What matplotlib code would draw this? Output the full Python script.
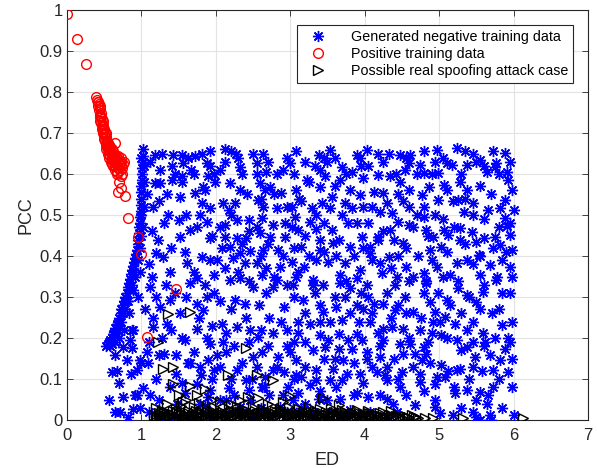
import numpy as np
import matplotlib
matplotlib.use('Agg')
import matplotlib.pyplot as plt
from matplotlib.lines import Line2D

plt.rcParams['font.family'] = ['Liberation Sans', 'DejaVu Sans']

# ---- data (ED, PCC) ----

# positive training data (red circles)
pos_pts = [
    (0.0, 0.99), (0.13, 0.93), (0.26, 0.868), (0.82, 0.493), (0.96, 0.447),
    (1.0, 0.405), (1.47, 0.32), (1.08, 0.203),
    (0.39, 0.788), (0.41, 0.775), (0.42, 0.765), (0.43, 0.755), (0.44, 0.745),
    (0.45, 0.74), (0.45, 0.73), (0.46, 0.725), (0.47, 0.72), (0.47, 0.71),
    (0.48, 0.705), (0.49, 0.7), (0.5, 0.695), (0.5, 0.685), (0.51, 0.68),
    (0.52, 0.675), (0.53, 0.67), (0.54, 0.665), (0.55, 0.66), (0.56, 0.655),
    (0.57, 0.65), (0.58, 0.645), (0.6, 0.645), (0.6, 0.635), (0.62, 0.64),
    (0.63, 0.63), (0.65, 0.635), (0.66, 0.625), (0.68, 0.63), (0.7, 0.625),
    (0.72, 0.64), (0.73, 0.63), (0.75, 0.625), (0.74, 0.615), (0.71, 0.61),
    (0.67, 0.605), (0.62, 0.655), (0.58, 0.665), (0.53, 0.69), (0.52, 0.7),
    (0.48, 0.72), (0.44, 0.76), (0.645, 0.675), (0.69, 0.645), (0.67, 0.6),
    (0.73, 0.595), (0.7, 0.58), (0.69, 0.556), (0.72, 0.565), (0.78, 0.546),
    (0.74, 0.6), (0.62, 0.62), (0.64, 0.61),
    (0.4, 0.78), (0.42, 0.775), (0.43, 0.77), (0.44, 0.765), (0.46, 0.75),
    (0.46, 0.74), (0.47, 0.735), (0.48, 0.73), (0.49, 0.715), (0.5, 0.71),
    (0.51, 0.7), (0.52, 0.69), (0.54, 0.68), (0.55, 0.675), (0.56, 0.67),
    (0.57, 0.665), (0.59, 0.655), (0.6, 0.66), (0.61, 0.65), (0.63, 0.645),
    (0.64, 0.64), (0.66, 0.645), (0.67, 0.64), (0.7, 0.635), (0.71, 0.63),
    (0.73, 0.62), (0.76, 0.63), (0.55, 0.65), (0.57, 0.64), (0.59, 0.63),
    (0.61, 0.625), (0.65, 0.62), (0.68, 0.615), (0.52, 0.66),
]

# negative data: the dense left boundary
neg_edge = [
    (0.53, 0.18), (0.55, 0.185), (0.57, 0.19), (0.58, 0.195), (0.6, 0.2),
    (0.62, 0.21), (0.63, 0.215), (0.65, 0.225), (0.67, 0.235), (0.68, 0.24),
    (0.7, 0.25), (0.72, 0.26), (0.73, 0.27), (0.75, 0.28), (0.77, 0.29),
    (0.78, 0.3), (0.8, 0.31), (0.82, 0.325), (0.83, 0.335), (0.85, 0.345),
    (0.86, 0.355), (0.88, 0.365), (0.89, 0.375), (0.9, 0.385), (0.92, 0.395),
    (0.93, 0.405), (0.94, 0.415), (0.95, 0.43), (0.96, 0.44), (0.97, 0.455),
    (0.97, 0.47), (0.98, 0.48), (0.98, 0.495), (0.99, 0.51), (0.99, 0.525),
    (1.0, 0.54), (1.0, 0.555), (1.0, 0.57), (1.01, 0.585), (1.01, 0.6),
    (1.01, 0.615), (1.02, 0.63), (1.02, 0.645), (1.02, 0.66),
    (0.6, 0.185), (0.65, 0.205), (0.7, 0.23), (0.75, 0.26), (0.8, 0.29),
    (0.85, 0.32), (0.9, 0.36), (0.95, 0.39), (0.98, 0.42), (1.02, 0.47),
    (1.03, 0.52), (1.04, 0.58), (1.03, 0.62), (1.0, 0.64), (1.0, 0.5),
    (0.99, 0.45), (0.92, 0.35), (0.88, 0.33), (0.82, 0.29), (0.78, 0.27),
    (0.72, 0.24), (0.68, 0.22), (0.64, 0.19), (0.58, 0.18), (0.7, 0.2),
    (0.76, 0.22), (0.83, 0.26), (0.95, 0.3), (0.98, 0.36),
]

# negative data: sparse points left of ED = 1
neg_left = [
    (0.57, 0.049), (0.65, 0.02), (0.71, 0.02), (0.82, 0.008), (0.75, 0.056),
    (0.94, 0.06), (0.98, 0.03), (0.7, 0.09), (0.6, 0.117), (0.67, 0.12),
    (0.86, 0.112), (0.64, 0.158), (0.8, 0.146), (0.87, 0.175), (0.75, 0.178),
    (0.89, 0.22), (0.85, 0.195), (1.0, 0.14),
]

# negative data: upper half (PCC > 0.33)
neg_upper = [
    (1.18, 0.647), (1.43, 0.646), (1.55, 0.646), (1.62, 0.64), (1.72, 0.645),
    (1.81, 0.65), (1.92, 0.62), (2.12, 0.66), (2.2, 0.655), (2.27, 0.65),
    (2.3, 0.64), (2.5, 0.65), (2.64, 0.65), (2.95, 0.64), (3.08, 0.655),
    (3.2, 0.63), (3.38, 0.646),
    (1.25, 0.61), (1.41, 0.62), (1.56, 0.626), (1.67, 0.61), (1.88, 0.626),
    (1.97, 0.6), (2.12, 0.63), (2.32, 0.618), (2.55, 0.626), (2.68, 0.606),
    (2.82, 0.6), (3.0, 0.626), (3.33, 0.62), (3.4, 0.61),
    (1.18, 0.577), (1.25, 0.577), (1.41, 0.585), (1.54, 0.594), (1.83, 0.569),
    (1.9, 0.594), (2.19, 0.577), (2.32, 0.561), (2.59, 0.577), (2.66, 0.561),
    (2.73, 0.569), (2.88, 0.553), (3.08, 0.561), (3.22, 0.585), (3.4, 0.569),
    (1.23, 0.533), (1.52, 0.545), (1.72, 0.553), (1.81, 0.529), (1.92, 0.516),
    (2.17, 0.512), (2.26, 0.529), (2.57, 0.537), (2.64, 0.52), (2.82, 0.516),
    (3.02, 0.52), (3.15, 0.533), (3.29, 0.516), (3.42, 0.529),
    (1.36, 0.5), (1.5, 0.488), (1.65, 0.463), (1.79, 0.5), (1.88, 0.484),
    (1.92, 0.443), (2.12, 0.476), (2.28, 0.488), (2.44, 0.488), (2.62, 0.492),
    (2.77, 0.476), (2.93, 0.48), (3.06, 0.496), (3.26, 0.484), (1.14, 0.46),
    (1.52, 0.447), (2.12, 0.447), (2.28, 0.443), (2.41, 0.443), (2.59, 0.455),
    (2.73, 0.447), (2.93, 0.447), (3.11, 0.463), (3.35, 0.467),
    (2.08, 0.419), (2.19, 0.423), (2.32, 0.407), (2.46, 0.411), (2.64, 0.415),
    (2.84, 0.415), (3.15, 0.423), (3.4, 0.415), (1.2, 0.407), (1.29, 0.398),
    (1.61, 0.382), (1.81, 0.398), (1.92, 0.39), (2.01, 0.39), (2.23, 0.394),
    (2.39, 0.382), (2.55, 0.382), (2.68, 0.37), (2.86, 0.374), (3.02, 0.386),
    (3.18, 0.374), (3.35, 0.39), (1.14, 0.35), (1.38, 0.362), (1.74, 0.346),
    (1.97, 0.354), (2.19, 0.342), (2.32, 0.346), (2.62, 0.354), (2.82, 0.342),
    (3.08, 0.35), (3.31, 0.342),
    (3.53, 0.659), (3.89, 0.646), (4.03, 0.659), (4.18, 0.65), (4.32, 0.65),
    (4.47, 0.646), (4.61, 0.646), (4.79, 0.655), (4.97, 0.659), (5.24, 0.663),
    (5.35, 0.655), (5.73, 0.655), (5.89, 0.652), (3.94, 0.638), (5.1, 0.626),
    (5.5, 0.63), (5.77, 0.626), (4.59, 0.626),
    (3.49, 0.63), (3.69, 0.618), (3.83, 0.606), (3.98, 0.59), (4.18, 0.598),
    (4.34, 0.594), (4.54, 0.61), (4.74, 0.622), (4.95, 0.63), (4.99, 0.602),
    (5.17, 0.622), (5.37, 0.622), (5.55, 0.634), (5.64, 0.606), (5.75, 0.618),
    (5.91, 0.606), (5.93, 0.585), (3.47, 0.594), (3.67, 0.585), (4.47, 0.581),
    (4.79, 0.602), (5.28, 0.581), (5.37, 0.561), (5.06, 0.573),
    (3.56, 0.545), (3.74, 0.529), (3.94, 0.549), (4.12, 0.557), (4.25, 0.553),
    (4.52, 0.533), (4.59, 0.52), (4.77, 0.549), (4.86, 0.569), (4.99, 0.537),
    (5.19, 0.533), (5.26, 0.537), (5.46, 0.529), (5.89, 0.537), (3.53, 0.516),
    (3.83, 0.516), (3.98, 0.52), (4.21, 0.508), (4.36, 0.504), (4.7, 0.5),
    (4.79, 0.496), (5.33, 0.508), (5.66, 0.512), (5.82, 0.516), (6.0, 0.512),
    (5.89, 0.492),
    (3.56, 0.463), (3.78, 0.48), (3.96, 0.447), (4.18, 0.447), (4.34, 0.463),
    (4.45, 0.484), (4.59, 0.476), (4.83, 0.463), (4.92, 0.447), (5.06, 0.463),
    (5.12, 0.451), (5.28, 0.468), (5.44, 0.459), (5.6, 0.443), (5.75, 0.447),
    (5.95, 0.451), (5.91, 0.472), (3.4, 0.439), (3.58, 0.431), (3.8, 0.423),
    (4.07, 0.423), (4.18, 0.439), (4.52, 0.431), (4.88, 0.415), (5.03, 0.423),
    (5.28, 0.439), (5.5, 0.435), (5.82, 0.427), (5.98, 0.415),
    (3.51, 0.386), (3.74, 0.382), (3.94, 0.366), (4.07, 0.407), (4.21, 0.382),
    (4.32, 0.398), (4.56, 0.374), (4.79, 0.358), (4.97, 0.374), (5.24, 0.382),
    (5.37, 0.39), (5.53, 0.402), (5.68, 0.378), (5.84, 0.39), (5.95, 0.374),
    (3.67, 0.354), (3.89, 0.346), (4.23, 0.358), (4.43, 0.35), (4.65, 0.35),
    (4.83, 0.338), (5.15, 0.354), (5.55, 0.354), (5.77, 0.342), (5.98, 0.35),
]

# negative data: lower half (PCC < 0.33)
neg_lower = [
    (0.89, 0.317), (1.11, 0.325), (1.38, 0.292), (1.65, 0.333), (1.74, 0.284),
    (1.88, 0.3), (2.08, 0.235), (2.26, 0.292), (2.39, 0.284), (2.5, 0.325),
    (2.68, 0.309), (2.77, 0.325), (2.91, 0.276), (3.04, 0.329), (3.17, 0.292),
    (3.33, 0.309), (3.44, 0.329), (1.25, 0.276), (1.52, 0.26), (1.83, 0.268),
    (0.87, 0.219), (1.16, 0.227), (1.34, 0.235), (1.59, 0.195), (1.74, 0.223),
    (1.92, 0.186), (2.14, 0.211), (2.28, 0.227), (2.46, 0.219), (2.57, 0.203),
    (2.77, 0.211), (2.95, 0.219), (3.11, 0.211), (3.26, 0.235), (3.4, 0.207),
    (0.98, 0.146), (1.07, 0.166), (1.23, 0.158), (1.47, 0.158), (1.7, 0.166),
    (1.9, 0.146), (2.01, 0.158), (2.14, 0.166), (2.5, 0.154), (2.62, 0.166),
    (2.84, 0.154), (2.99, 0.166), (3.08, 0.146), (3.31, 0.17),
    (0.94, 0.121), (1.09, 0.138), (1.47, 0.113), (1.65, 0.138), (1.79, 0.13),
    (1.97, 0.121), (2.17, 0.077), (2.28, 0.121), (2.41, 0.097), (2.66, 0.105),
    (2.77, 0.121), (2.91, 0.117), (3.08, 0.109), (3.15, 0.105), (3.26, 0.085),
    (3.35, 0.097), (3.35, 0.121), (0.91, 0.061), (1.11, 0.061), (1.02, 0.077),
    (1.74, 0.089), (1.92, 0.073), (2.44, 0.073), (2.62, 0.081), (2.97, 0.081),
    (3.11, 0.065),
    (1.23, 0.048), (1.59, 0.065), (1.79, 0.04), (1.9, 0.056), (2.14, 0.048),
    (2.32, 0.032), (2.46, 0.048), (2.71, 0.061), (2.86, 0.032), (3.04, 0.048),
    (3.2, 0.04), (3.38, 0.052), (0.89, 0.028),
    (1.43, 0.008), (1.65, 0.008), (1.92, 0.008), (2.14, 0.016), (2.5, 0.004),
    (2.73, 0.008), (3.08, 0.012), (3.29, 0.008), (1.47, 0.0),
    (3.67, 0.333), (3.8, 0.321), (4.03, 0.329), (4.41, 0.329), (4.83, 0.333),
    (5.26, 0.321), (5.37, 0.304), (5.59, 0.313), (5.84, 0.309), (3.74, 0.3),
    (3.62, 0.276), (3.89, 0.28), (4.12, 0.284), (4.25, 0.284), (4.41, 0.268),
    (4.54, 0.3), (4.65, 0.264), (4.88, 0.288), (4.95, 0.264), (5.1, 0.292),
    (5.5, 0.288), (5.71, 0.26), (5.84, 0.231), (3.44, 0.264),
    (3.53, 0.239), (3.69, 0.243), (3.92, 0.239), (4.07, 0.239), (4.25, 0.223),
    (4.36, 0.227), (4.52, 0.223), (4.74, 0.219), (4.9, 0.211), (5.01, 0.239),
    (5.08, 0.252), (5.21, 0.235), (5.37, 0.219), (5.59, 0.211), (5.93, 0.199),
    (3.51, 0.195), (3.78, 0.195), (3.96, 0.195), (4.18, 0.211), (4.25, 0.195),
    (4.47, 0.186), (4.61, 0.186), (4.79, 0.178), (5.03, 0.207), (5.24, 0.195),
    (5.37, 0.178), (5.62, 0.19), (5.89, 0.174),
    (3.47, 0.178), (3.65, 0.174), (3.83, 0.174), (4.03, 0.166), (4.03, 0.15),
    (4.21, 0.154), (4.52, 0.162), (4.68, 0.162), (4.83, 0.162), (4.77, 0.146),
    (5.03, 0.134), (5.28, 0.125), (5.48, 0.154), (5.68, 0.158), (5.82, 0.146),
    (5.98, 0.15), (3.71, 0.146), (3.58, 0.125), (3.76, 0.113), (3.94, 0.113),
    (4.16, 0.117), (4.27, 0.109), (4.5, 0.117), (4.74, 0.113), (4.97, 0.105),
    (5.08, 0.105), (5.24, 0.121), (5.46, 0.13), (5.73, 0.121), (5.93, 0.117),
    (3.53, 0.097),
    (3.69, 0.097), (4.3, 0.097), (4.47, 0.081), (4.74, 0.093), (4.95, 0.089),
    (5.21, 0.065), (5.37, 0.073), (5.55, 0.069), (5.73, 0.081), (3.89, 0.065),
    (4.05, 0.057), (3.67, 0.052), (4.3, 0.052), (4.68, 0.036), (4.95, 0.032),
    (5.5, 0.048), (5.64, 0.04), (3.49, 0.048), (3.8, 0.024), (4.07, 0.02),
    (4.43, 0.02),
    (5.01, 0.016), (5.19, 0.012), (5.5, 0.008), (5.68, 0.012), (6.0, 0.012),
    (3.74, 0.004), (4.3, 0.008),
]

# negative data: extra points filling the cloud
neg_fill = [
    (1.12, 0.63), (1.08, 0.55), (1.15, 0.52), (1.3, 0.48), (1.22, 0.44),
    (1.4, 0.42), (1.1, 0.38), (1.33, 0.33), (1.45, 0.31), (1.2, 0.3),
    (1.15, 0.25), (1.28, 0.2), (1.4, 0.22), (1.1, 0.19), (1.3, 0.16),
    (1.2, 0.1), (1.38, 0.08), (1.1, 0.02), (1.25, 0.005), (1.48, 0.04),
    (1.05, 0.27), (1.35, 0.55), (1.45, 0.6), (1.28, 0.65),
    (1.55, 0.58), (1.7, 0.6), (1.85, 0.56), (1.6, 0.5), (1.75, 0.47),
    (1.95, 0.45), (1.58, 0.41), (1.7, 0.36), (1.85, 0.33), (1.98, 0.31),
    (1.6, 0.3), (1.78, 0.25), (1.95, 0.23), (1.55, 0.2), (1.88, 0.2),
    (1.62, 0.14), (1.8, 0.11), (1.95, 0.1), (1.55, 0.09), (1.7, 0.02),
    (1.85, 0.035), (1.99, 0.58), (1.92, 0.655),
    (2.05, 0.61), (2.35, 0.6), (2.42, 0.55), (2.1, 0.53), (2.2, 0.5),
    (2.45, 0.46), (2.05, 0.47), (2.35, 0.43), (2.12, 0.37), (2.3, 0.36),
    (2.45, 0.34), (2.05, 0.29), (2.2, 0.27), (2.4, 0.25), (2.1, 0.19),
    (2.25, 0.18), (2.45, 0.19), (2.05, 0.13), (2.35, 0.14), (2.2, 0.1),
    (2.48, 0.1), (2.05, 0.05), (2.25, 0.06), (2.4, 0.02), (2.15, 0.01),
    (2.55, 0.6), (2.7, 0.63), (2.9, 0.61), (2.6, 0.54), (2.78, 0.55),
    (2.95, 0.52), (2.55, 0.47), (2.7, 0.43), (2.9, 0.4), (2.6, 0.4),
    (2.78, 0.35), (2.95, 0.33), (2.58, 0.28), (2.72, 0.25), (2.88, 0.24),
    (2.6, 0.22), (2.95, 0.18), (2.7, 0.18), (2.55, 0.13), (2.82, 0.13),
    (2.65, 0.08), (2.9, 0.06), (2.6, 0.03), (2.95, 0.02),
    (3.05, 0.6), (3.25, 0.58), (3.45, 0.64), (3.12, 0.54), (3.35, 0.5),
    (3.02, 0.47), (3.2, 0.45), (3.45, 0.48), (3.05, 0.42), (3.25, 0.4),
    (3.45, 0.41), (3.1, 0.36), (3.3, 0.33), (3.05, 0.3), (3.4, 0.28),
    (3.2, 0.26), (3.1, 0.24), (3.4, 0.24), (3.2, 0.19), (3.05, 0.19),
    (3.45, 0.15), (3.2, 0.13), (3.05, 0.1), (3.4, 0.07), (3.15, 0.03),
    (3.3, 0.02),
    (3.6, 0.64), (3.75, 0.6), (3.95, 0.62), (3.6, 0.57), (3.8, 0.56),
    (3.7, 0.5), (3.9, 0.48), (3.65, 0.44), (3.85, 0.4), (3.98, 0.42),
    (3.62, 0.4), (3.75, 0.34), (3.95, 0.31), (3.6, 0.3), (3.8, 0.26),
    (3.98, 0.27), (3.65, 0.21), (3.9, 0.21), (3.6, 0.15), (3.85, 0.14),
    (3.98, 0.09), (3.62, 0.08), (3.85, 0.06), (3.55, 0.02),
    (4.05, 0.62), (4.25, 0.63), (4.42, 0.6), (4.1, 0.52), (4.3, 0.53),
    (4.45, 0.55), (4.05, 0.48), (4.25, 0.46), (4.4, 0.44), (4.1, 0.39),
    (4.35, 0.37), (4.45, 0.4), (4.05, 0.3), (4.3, 0.31), (4.45, 0.28),
    (4.1, 0.26), (4.35, 0.25), (4.2, 0.18), (4.4, 0.15), (4.1, 0.13),
    (4.3, 0.13), (4.45, 0.1), (4.2, 0.06), (4.38, 0.04),
    (4.55, 0.64), (4.7, 0.6), (4.9, 0.6), (4.6, 0.56), (4.8, 0.52),
    (4.95, 0.5), (4.65, 0.47), (4.85, 0.45), (4.55, 0.42), (4.72, 0.4),
    (4.9, 0.39), (4.6, 0.34), (4.8, 0.31), (4.98, 0.31), (4.55, 0.26),
    (4.75, 0.25), (4.92, 0.24), (4.6, 0.2), (4.85, 0.19), (4.65, 0.13),
    (4.88, 0.14), (4.55, 0.06), (4.8, 0.07), (4.95, 0.05),
    (5.05, 0.64), (5.3, 0.6), (5.45, 0.65), (5.1, 0.56), (5.35, 0.54),
    (5.05, 0.49), (5.2, 0.47), (5.45, 0.5), (5.1, 0.41), (5.35, 0.43),
    (5.45, 0.38), (5.05, 0.35), (5.25, 0.34), (5.4, 0.3), (5.15, 0.28),
    (5.3, 0.26), (5.45, 0.24), (5.1, 0.2), (5.3, 0.17), (5.45, 0.19),
    (5.12, 0.12), (5.4, 0.1), (5.2, 0.08), (5.3, 0.03), (5.45, 0.02),
    (5.6, 0.62), (5.8, 0.6), (5.95, 0.63), (5.55, 0.57), (5.7, 0.55),
    (5.98, 0.56), (5.6, 0.49), (5.8, 0.47), (5.95, 0.48), (5.55, 0.4),
    (5.72, 0.42), (5.9, 0.41), (5.6, 0.33), (5.78, 0.35), (5.95, 0.31),
    (5.55, 0.27), (5.8, 0.27), (5.98, 0.24), (5.6, 0.18), (5.75, 0.2),
    (5.95, 0.19), (5.58, 0.12), (5.8, 0.1), (5.98, 0.08), (5.65, 0.06),
    (5.85, 0.03), (5.55, 0.0), (5.7, 0.0),
]

# possible real spoofing attack cases (triangles): dense band near PCC = 0
att_band = [
    (1.19, 0.009), (1.23, 0.017), (1.26, 0.007), (1.3, 0.013), (1.34, 0.02),
    (1.37, 0.008), (1.41, 0.015), (1.44, 0.011), (1.48, 0.019), (1.51, 0.007),
    (1.55, 0.014), (1.58, 0.01), (1.62, 0.018), (1.66, 0.006), (1.69, 0.013),
    (1.73, 0.021), (1.76, 0.009), (1.8, 0.016), (1.83, 0.007), (1.87, 0.012),
    (1.9, 0.019), (1.94, 0.008), (1.97, 0.015), (2.01, 0.011), (2.05, 0.018),
    (2.08, 0.006), (2.12, 0.014), (2.15, 0.009), (2.19, 0.017), (2.23, 0.007),
    (2.26, 0.013), (2.3, 0.02), (2.33, 0.01), (2.37, 0.016), (2.41, 0.007),
    (2.44, 0.012), (2.48, 0.018), (2.51, 0.008), (2.55, 0.015), (2.59, 0.01),
    (2.62, 0.019), (2.66, 0.006), (2.7, 0.014), (2.73, 0.009), (2.77, 0.017),
    (2.8, 0.007), (2.84, 0.013), (2.88, 0.02), (2.91, 0.008), (2.95, 0.015),
    (2.98, 0.011), (3.02, 0.018), (3.06, 0.006), (3.09, 0.014), (3.13, 0.009),
    (3.17, 0.016), (3.2, 0.007), (3.24, 0.012), (3.28, 0.019), (3.31, 0.008),
    (3.35, 0.015), (3.39, 0.01), (3.42, 0.017), (3.46, 0.006), (3.5, 0.013),
    (3.53, 0.009), (3.57, 0.016), (3.61, 0.007), (3.64, 0.012), (3.68, 0.018),
    (3.72, 0.008), (3.75, 0.014), (3.79, 0.01), (3.83, 0.016), (3.87, 0.007),
    (3.9, 0.012), (3.94, 0.009), (3.98, 0.015), (4.02, 0.007), (4.06, 0.011),
    (4.1, 0.008), (4.14, 0.014), (4.18, 0.006), (4.22, 0.01), (4.27, 0.007),
    (4.32, 0.012), (4.37, 0.006), (4.42, 0.009), (4.48, 0.007), (4.54, 0.01),
    (4.6, 0.006), (4.66, 0.008), (4.72, 0.006),
    (1.17, 0.013), (1.21, 0.006), (1.25, 0.012), (1.28, 0.019), (1.32, 0.007),
    (1.35, 0.014), (1.39, 0.01), (1.43, 0.021), (1.46, 0.006), (1.5, 0.014),
    (1.53, 0.019), (1.57, 0.007), (1.6, 0.012), (1.64, 0.021), (1.68, 0.009),
    (1.71, 0.016), (1.75, 0.006), (1.78, 0.013), (1.82, 0.02), (1.85, 0.009),
    (1.89, 0.006), (1.92, 0.014), (1.96, 0.021), (1.99, 0.007), (2.03, 0.015),
    (2.07, 0.011), (2.1, 0.02), (2.14, 0.007), (2.17, 0.012), (2.21, 0.021),
    (2.24, 0.009), (2.28, 0.006), (2.32, 0.015), (2.35, 0.021), (2.39, 0.011),
    (2.42, 0.018), (2.46, 0.006), (2.5, 0.013), (2.53, 0.021), (2.57, 0.007),
    (2.6, 0.014), (2.64, 0.011), (2.68, 0.02), (2.71, 0.007), (2.75, 0.012),
    (2.79, 0.021), (2.82, 0.009), (2.86, 0.006), (2.9, 0.016), (2.93, 0.021),
    (2.97, 0.007), (3.0, 0.013), (3.04, 0.01), (3.08, 0.02), (3.11, 0.007),
    (3.15, 0.013), (3.19, 0.021), (3.22, 0.009), (3.26, 0.006), (3.3, 0.015),
    (3.33, 0.021), (3.37, 0.007), (3.41, 0.013), (3.44, 0.01), (3.48, 0.019),
    (3.52, 0.006), (3.55, 0.012), (3.59, 0.02), (3.63, 0.009), (3.66, 0.006),
    (3.7, 0.013), (3.74, 0.02), (3.77, 0.007), (3.81, 0.012), (3.85, 0.018),
    (3.89, 0.009), (3.92, 0.016), (3.96, 0.006), (4.0, 0.012), (4.04, 0.017),
    (4.08, 0.009), (4.12, 0.006), (4.16, 0.011), (4.2, 0.016), (4.25, 0.008),
    (4.3, 0.006), (4.35, 0.011), (4.4, 0.007), (4.45, 0.013), (4.51, 0.006),
    (4.57, 0.008), (4.63, 0.011), (4.69, 0.007),
    (1.2, 0.03), (1.28, 0.025), (1.35, 0.04), (1.46, 0.028), (1.53, 0.035),
    (1.6, 0.05), (1.7, 0.032), (1.78, 0.042), (1.88, 0.026), (1.98, 0.032),
    (2.06, 0.045), (2.18, 0.028), (2.28, 0.035), (2.38, 0.026), (2.5, 0.032),
    (2.64, 0.028), (2.75, 0.035), (2.86, 0.026), (2.98, 0.032), (3.12, 0.028),
    (3.25, 0.032), (3.4, 0.026), (3.55, 0.03), (3.7, 0.024), (3.9, 0.025),
    (4.05, 0.022), (4.25, 0.02), (4.35, 0.021), (4.58, 0.008), (4.81, 0.006),
    (4.92, 0.006), (5.32, 0.004), (6.13, 0.004),
]

# spoofing cases scattered above the band
att_scatter = [
    (1.36, 0.258), (1.65, 0.263), (1.22, 0.19), (2.41, 0.175), (1.29, 0.124),
    (1.43, 0.129), (2.16, 0.11), (2.55, 0.11), (2.77, 0.097), (1.42, 0.088),
    (1.65, 0.083), (1.86, 0.075), (2.43, 0.057), (2.33, 0.05), (2.57, 0.053),
    (3.0, 0.058), (1.5, 0.06), (1.75, 0.06), (1.56, 0.044), (3.44, 0.054),
    (3.66, 0.037), (2.9, 0.045), (2.7, 0.04), (2.2, 0.04), (1.95, 0.05),
]

x_ticks = [0, 1, 2, 3, 4, 5, 6, 7]
y_ticks = [0, 0.1, 0.2, 0.3, 0.4, 0.5, 0.6, 0.7, 0.8, 0.9, 1]
y_tick_labels = ['0', '0.1', '0.2', '0.3', '0.4', '0.5', '0.6', '0.7', '0.8', '0.9', '1']

neg = np.array(neg_edge + neg_left + neg_upper + neg_lower + neg_fill)
pos = np.array(pos_pts)
att = np.array(att_band + att_scatter)

fig = plt.figure(figsize=(5.97, 4.68), dpi=100)
ax = fig.add_axes([67/597, 48/468, 521/597, 410/468])

# same drawing order as the legend: negatives, positives, attack cases
ax.plot(neg[:, 0], neg[:, 1], linestyle='none', marker=(8, 2, 0), ms=8,
        color='#0000ff', mew=1.0, zorder=3)
ax.plot(pos[:, 0], pos[:, 1], linestyle='none', marker='o', ms=7,
        mfc='none', mec='#ff0000', mew=1.0, zorder=4)
ax.plot(att[:, 0], att[:, 1], linestyle='none', marker='>', ms=7.5,
        mfc='none', mec='black', mew=1.0, zorder=5)

ax.set_xlim(0, 7)
ax.set_ylim(0, 1)
ax.set_xticks(x_ticks)
ax.set_yticks(y_ticks)
ax.set_yticklabels(y_tick_labels)
ax.tick_params(direction='in', length=4, width=0.6, labelsize=12,
               colors='#262626', top=True, right=True)
ax.tick_params(axis='x', pad=6)
ax.tick_params(axis='y', pad=3)
ax.grid(True, color='#e3e3e3', linewidth=0.8)
ax.set_axisbelow(True)
for s in ax.spines.values():
    s.set_color('#262626')
    s.set_linewidth(0.8)

ax.set_xlabel('ED', fontsize=13, color='#262626', labelpad=6)
ax.set_ylabel('PCC', fontsize=13, color='#262626', labelpad=4)

handles = [
    Line2D([], [], linestyle='none', marker=(8, 2, 0), ms=8, color='#0000ff', mew=1.0),
    Line2D([], [], linestyle='none', marker='o', ms=7, mfc='none', mec='#ff0000', mew=1.0),
    Line2D([], [], linestyle='none', marker='>', ms=7.5, mfc='none', mec='black', mew=1.0),
]
labels = ['Generated negative training data', 'Positive training data',
          'Possible real spoofing attack case']
leg = ax.legend(handles, labels, loc='upper right', bbox_to_anchor=(0.971, 0.963),
                fontsize=10.3, fancybox=False, framealpha=1, edgecolor='#262626',
                borderpad=0.35, labelspacing=0.2, handletextpad=1.2,
                handlelength=2.2, borderaxespad=0)
leg.get_frame().set_linewidth(0.8)
leg.set_zorder(10)

fig.savefig('out.png', dpi=100)
